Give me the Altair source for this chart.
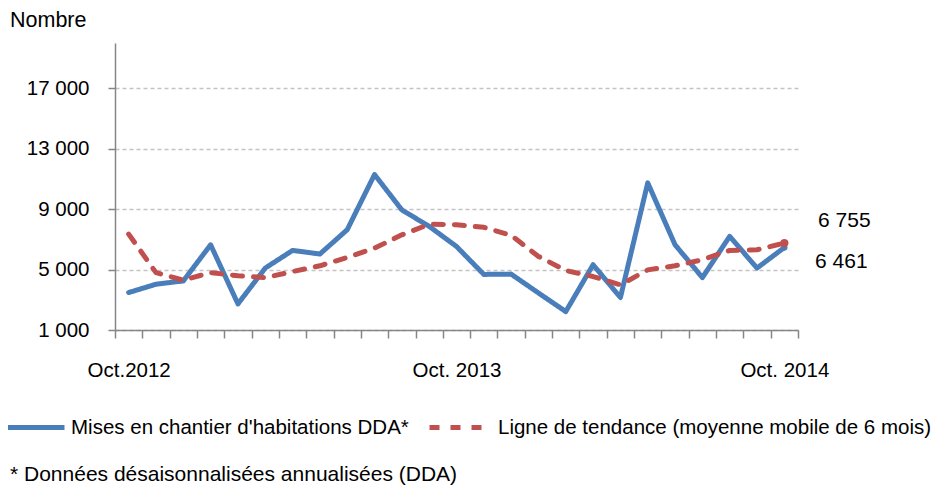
import altair as alt
import pandas as pd

# ---- data ----
months = ["2012-10", "2012-11", "2012-12", "2013-01", "2013-02", "2013-03", "2013-04",
          "2013-05", "2013-06", "2013-07", "2013-08", "2013-09", "2013-10", "2013-11",
          "2013-12", "2014-01", "2014-02", "2014-03", "2014-04", "2014-05", "2014-06",
          "2014-07", "2014-08", "2014-09", "2014-10"]
mises = [3480, 4030, 4250, 6640, 2730, 5100, 6270, 6030, 7640, 11290, 8950, 7860, 6530,
         4680, 4700, 3450, 2220, 5320, 3150, 10740, 6640, 4470, 7200, 5100, 6461]
tendance = [7350, 4800, 4300, 4800, 4590, 4470, 4870, 5250, 5800, 6420, 7300, 8000, 7970,
            7800, 7270, 5870, 4940, 4540, 3990, 4980, 5250, 5650, 6270, 6310, 6755]
series_names = ["Mises en chantier d'habitations DDA*",
                "Ligne de tendance (moyenne mobile de 6 mois)"]
series_colors = ["#4A7EBB", "#C0504D"]
x_labels = {"2012-10": "Oct.2012", "2013-10": "Oct. 2013", "2014-10": "Oct. 2014"}
y_ticks = [1000, 5000, 9000, 13000, 17000]
y_title = "Nombre"
footnote = "* Données désaisonnalisées annualisées (DDA)"

FONT = "Liberation Sans"

rows = []
for i, m in enumerate(months):
    rows.append({"idx": i, "month": m, "serie": series_names[0], "value": mises[i]})
for i, m in enumerate(months):
    rows.append({"idx": i, "month": m, "serie": series_names[1], "value": tendance[i]})
df = pd.DataFrame(rows)

n = len(months)
label_idx = {months.index(k): v for k, v in x_labels.items()}
label_expr = " : ".join(f"datum.value == {k} ? '{v}'" for k, v in label_idx.items()) + " : ''"
x_values = sorted([i - 0.5 for i in range(n + 1)] + list(label_idx.keys()))

x_enc = alt.X(
    "idx:Q",
    scale=alt.Scale(domain=[-0.5, n - 0.5], nice=False, zero=False),
    axis=alt.Axis(
        title=None, values=x_values, tickCount=200, labelExpr=label_expr, grid=False,
        domainColor="#868686", domainWidth=1.5, tickColor="#868686", tickWidth=1.5,
        tickSize=8, tickOpacity={"condition": {"test": "datum.value % 1 == 0", "value": 0}, "value": 1},
        labelFont=FONT, labelFontSize=20.5, labelColor="black", labelPadding=22,
        labelFlush=False, labelOverlap=False,
    ),
)
y_enc = alt.Y(
    "value:Q",
    scale=alt.Scale(domain=[1000, 20000], nice=False, zero=False),
    axis=alt.Axis(
        title=None, values=y_ticks, tickCount=200,
        labelExpr="replace(format(datum.value, ','), ',', ' ')",
        grid=True, gridColor="#C4C4C4", gridDash=[4, 3], gridWidth=1.5,
        domainColor="#868686", domainWidth=1.5, tickColor="#868686", tickWidth=1.5,
        tickSize=7, labelFont=FONT, labelFontSize=20.5, labelColor="black",
        labelPadding=19,
    ),
)

legend = alt.Legend(
    title=None, orient="none", legendX=-115, legendY=351, direction="horizontal",
    symbolType="stroke", symbolSize=3844, symbolStrokeWidth=5,
    labelFont=FONT, labelFontSize=20.5, labelColor="black", labelLimit=800,
    labelOffset=4, columnPadding=10, padding=0,
)

lines = alt.Chart(df).mark_line(strokeWidth=5, strokeCap="round", strokeJoin="round").encode(
    x=x_enc,
    y=y_enc,
    color=alt.Color("serie:N", scale=alt.Scale(domain=series_names, range=series_colors),
                    legend=legend),
    strokeDash=alt.StrokeDash("serie:N",
                              scale=alt.Scale(domain=series_names, range=[[1, 0], [10, 11]]),
                              legend=legend),
    order="idx:Q",
)

def fmt(v):
    return f"{v:,}".replace(",", " ")

last_blue = pd.DataFrame({"idx": [n - 1], "value": [mises[-1]], "lab": [fmt(mises[-1])]})
last_red = pd.DataFrame({"idx": [n - 1], "value": [tendance[-1]], "lab": [fmt(tendance[-1])]})

pt_blue = alt.Chart(last_blue).mark_circle(size=40, opacity=1, color=series_colors[0]).encode(
    x="idx:Q", y="value:Q")
pt_red = alt.Chart(last_red).mark_circle(size=70, opacity=1, color=series_colors[1]).encode(
    x="idx:Q", y="value:Q")

txt_red = alt.Chart(last_red).mark_text(
    font=FONT, fontSize=21, color="black", align="center", baseline="middle", dx=60, dy=-22
).encode(x="idx:Q", y="value:Q", text="lab:N")
txt_blue = alt.Chart(last_blue).mark_text(
    font=FONT, fontSize=21, color="black", align="center", baseline="middle", dx=57, dy=14
).encode(x="idx:Q", y="value:Q", text="lab:N")

title_txt = alt.Chart(pd.DataFrame({"t": [y_title]})).mark_text(
    font=FONT, fontSize=21.5, color="black", align="left", baseline="middle"
).encode(x=alt.value(-105), y=alt.value(-22), text="t:N")

foot_txt = alt.Chart(pd.DataFrame({"t": [footnote]})).mark_text(
    font=FONT, fontSize=21, color="black", align="left", baseline="middle"
).encode(x=alt.value(-105), y=alt.value(432), text="t:N")

chart = alt.layer(lines, pt_blue, pt_red, txt_red, txt_blue, title_txt, foot_txt).properties(
    width=683, height=287,
    padding={"left": 107, "top": 35, "right": 145, "bottom": 158},
    autosize=alt.AutoSizeParams(type="none"),
).configure_view(stroke=None)

chart.save("out.html", embed_options={"renderer": "svg", "actions": False})
